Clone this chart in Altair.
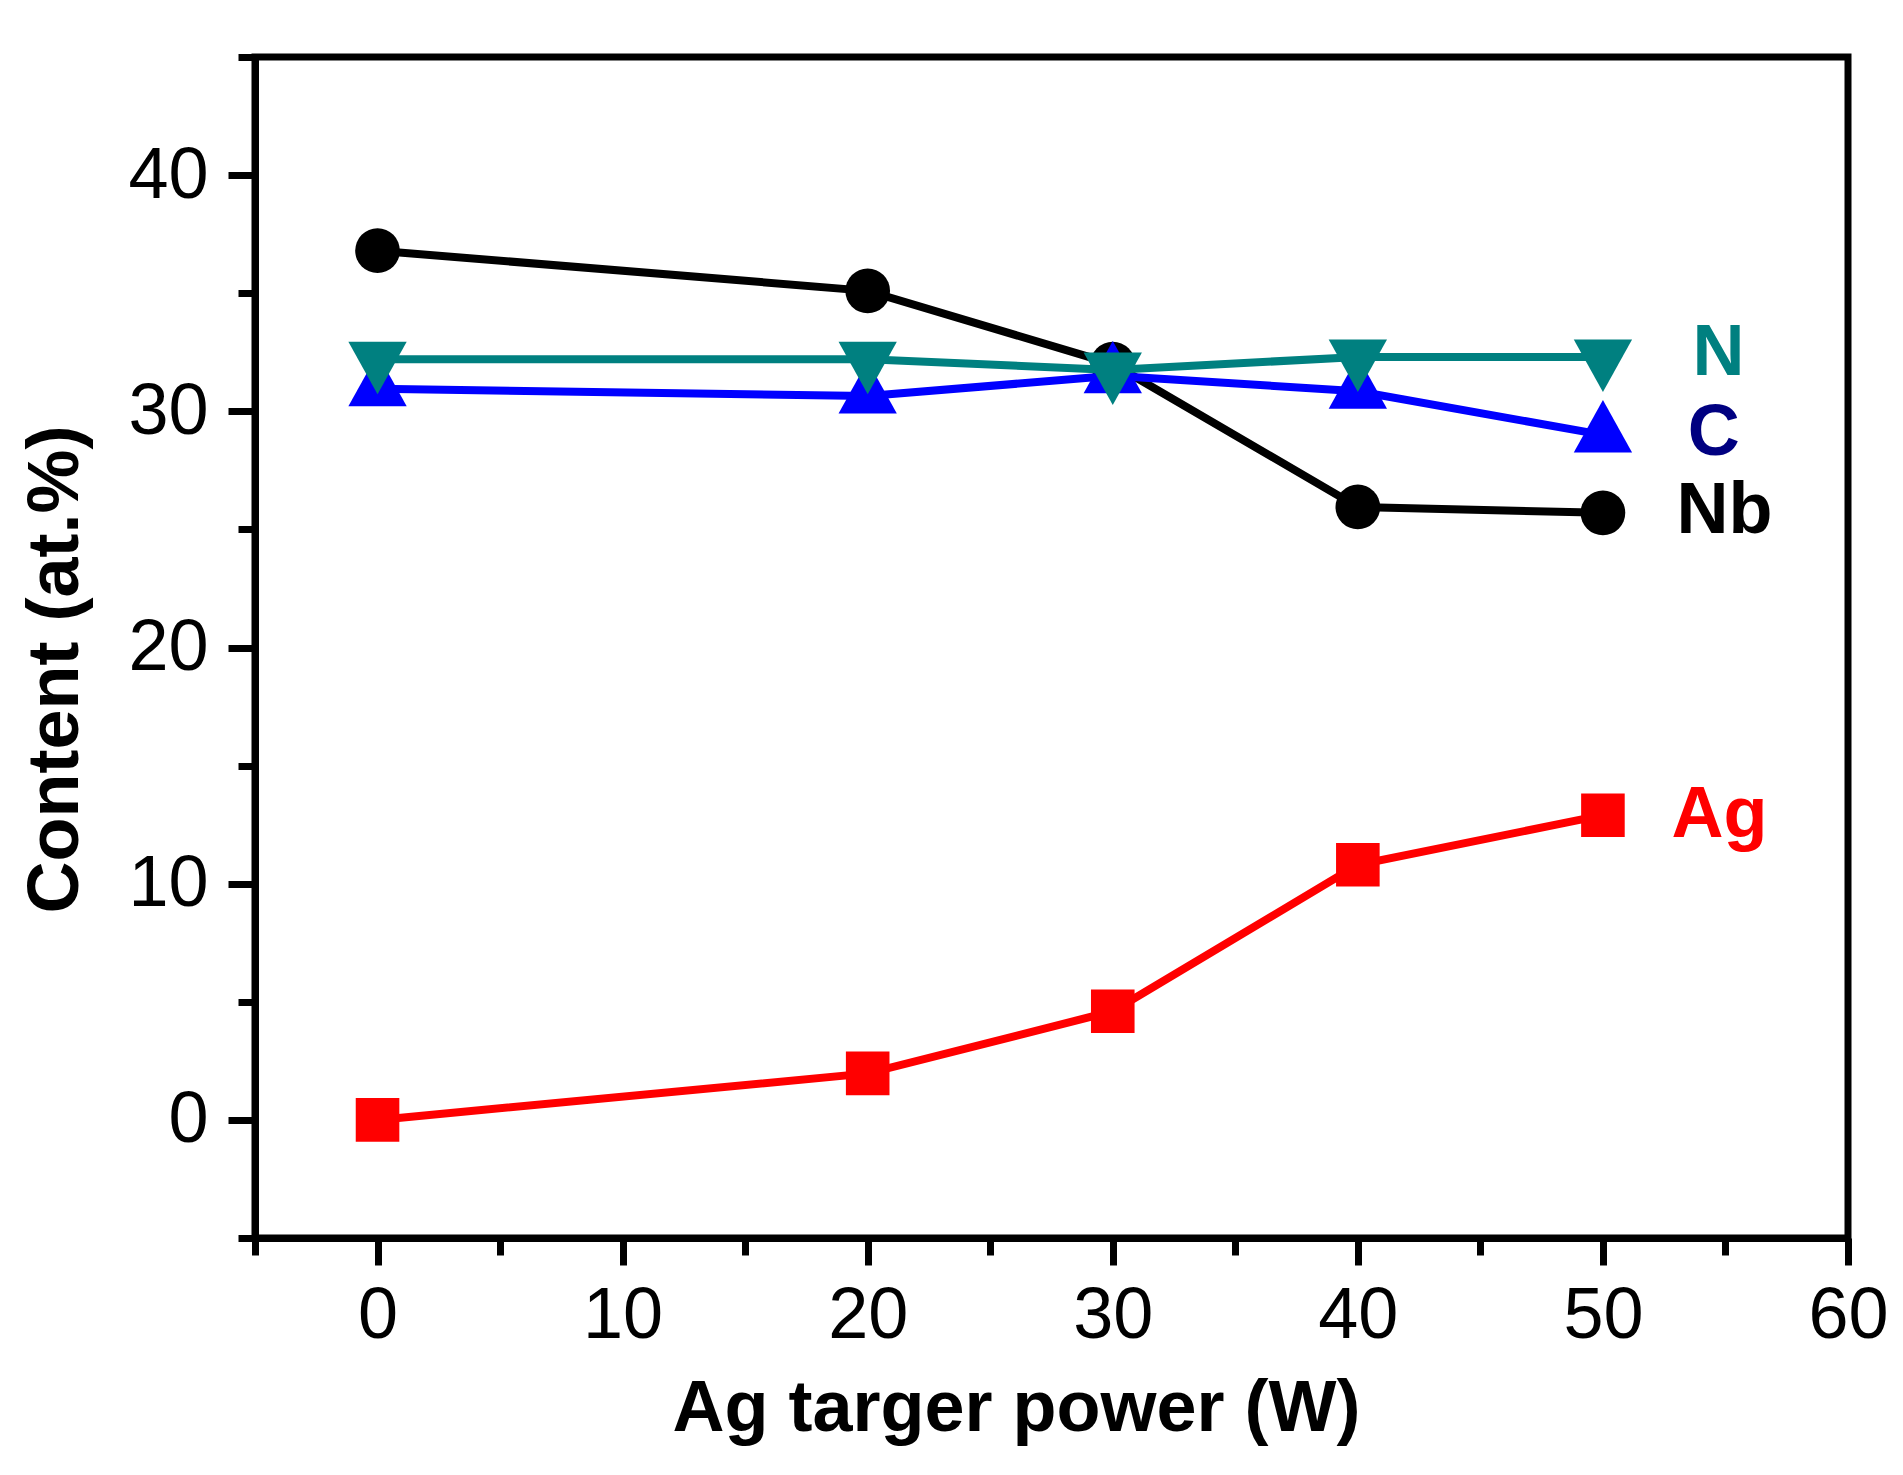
import altair as alt
import pandas as pd

# ---- data ----
power = [0, 20, 30, 40, 50]
nb_values = [36.8, 35.1, 32.0, 25.95, 25.7]
n_values = [32.2, 32.2, 31.75, 32.3, 32.3]
c_values = [30.95, 30.65, 31.5, 30.85, 29.0]
ag_values = [0.0, 1.97, 4.6, 10.8, 12.9]

series_order = ["Ag", "Nb", "C", "N"]  # drawing order (N on top)
line_colors = {"Ag": "#FF0000", "Nb": "#000000", "C": "#0000FF", "N": "#008080"}

label_names = ["Ag", "Nb", "C", "N"]
label_colors = ["#FF0000", "#000000", "#000080", "#008080"]
label_x = [52.8, 53.0, 53.46, 53.66]
label_y = [11.96, 24.83, 28.14, 31.52]

x_major = [0, 10, 20, 30, 40, 50, 60]
x_minor = [-5, 5, 15, 25, 35, 45, 55]
y_major = [0, 10, 20, 30, 40]
y_minor = [-5, 5, 15, 25, 35, 45]

values = {"Ag": ag_values, "Nb": nb_values, "C": c_values, "N": n_values}
rows = []
for s in series_order:
    for p, v in zip(power, values[s]):
        rows.append({"series": s, "power": p, "content": v})
df = pd.DataFrame(rows)
labels_df = pd.DataFrame({"name": label_names, "color": label_colors,
                          "x": label_x, "y": label_y})

FONT = "Liberation Sans"
xscale = alt.Scale(domain=[-5, 60], nice=False, zero=False)
yscale = alt.Scale(domain=[-5, 45], nice=False, zero=False)

TRI_UP = "M-1,0.6L1,0.6L0,-1.2Z"
TRI_DOWN = "M-1,-0.6L1,-0.6L0,1.2Z"
shapes = {"Ag": ("square", 1900), "Nb": ("circle", 2000),
          "C": (TRI_UP, 3400), "N": (TRI_DOWN, 3400)}

x_axis_major = alt.Axis(
    orient="bottom", values=x_major, grid=False,
    domain=True, domainColor="black", domainWidth=7,
    ticks=True, tickSize=27, tickWidth=7, tickColor="black",
    labelFont=FONT, labelFontSize=72, labelColor="black", labelPadding=15,
    labelFlush=False, labelOverlap=False,
    title="Ag targer power (W)", titleFont=FONT, titleFontSize=72,
    titleFontWeight="bold", titleColor="black",
    titleX=761, titleY=192, titleBaseline="alphabetic", titleAlign="center",
)
y_axis_major = alt.Axis(
    orient="left", values=y_major, grid=False,
    domain=True, domainColor="black", domainWidth=7,
    ticks=True, tickSize=27, tickWidth=7, tickColor="black",
    labelFont=FONT, labelFontSize=72, labelColor="black", labelPadding=20,
    labelFlush=False, labelOverlap=False,
    title="Content (at.%)", titleFont=FONT, titleFontSize=72,
    titleFontWeight="bold", titleColor="black",
    titleX=-178, titleY=612, titleBaseline="alphabetic", titleAlign="center",
    titleAngle=270,
)
x_axis_minor = alt.Axis(
    orient="bottom", values=x_minor, grid=False, domain=False,
    ticks=True, tickSize=17, tickWidth=7, tickColor="black",
    labels=False, title=None,
)
y_axis_minor = alt.Axis(
    orient="left", values=y_minor, grid=False, domain=False,
    ticks=True, tickSize=17, tickWidth=7, tickColor="black",
    labels=False, title=None,
)

layers = []

# minor tick carrier (invisible)
layers.append(
    alt.Chart(df).mark_point(opacity=0).encode(
        x=alt.X("power:Q", scale=xscale, axis=x_axis_minor),
        y=alt.Y("content:Q", scale=yscale, axis=y_axis_minor),
    )
)

first = True
for s in series_order:
    base = alt.Chart(df).transform_filter(alt.datum.series == s)
    if first:
        xa, ya = x_axis_major, y_axis_major
        first = False
    else:
        xa, ya = None, None
    line = base.mark_line(color=line_colors[s], strokeWidth=8).encode(
        x=alt.X("power:Q", scale=xscale, axis=xa),
        y=alt.Y("content:Q", scale=yscale, axis=ya),
    )
    shp, sz = shapes[s]
    pts = base.mark_point(shape=shp, size=sz, filled=True, opacity=1,
                          strokeWidth=0, color=line_colors[s]).encode(
        x=alt.X("power:Q", scale=xscale, axis=None),
        y=alt.Y("content:Q", scale=yscale, axis=None),
    )
    layers += [line, pts]

labels = alt.Chart(labels_df).mark_text(
    align="left", baseline="alphabetic", font=FONT, fontSize=72,
    fontWeight="bold",
).encode(
    x=alt.X("x:Q", scale=xscale, axis=None),
    y=alt.Y("y:Q", scale=yscale, axis=None),
    text="name:N",
    color=alt.Color("color:N", scale=None),
)
layers.append(labels)

chart = alt.layer(*layers).resolve_axis(
    x="independent", y="independent"
).properties(
    width=1593, height=1181,
    autosize=alt.AutoSizeParams(type="none"),
    padding={"left": 247, "top": 49, "right": 40, "bottom": 220},
    background="white",
).configure_view(
    stroke="black", strokeWidth=7
)

chart.save("out.html", embed_options={"renderer": "svg", "actions": False})
